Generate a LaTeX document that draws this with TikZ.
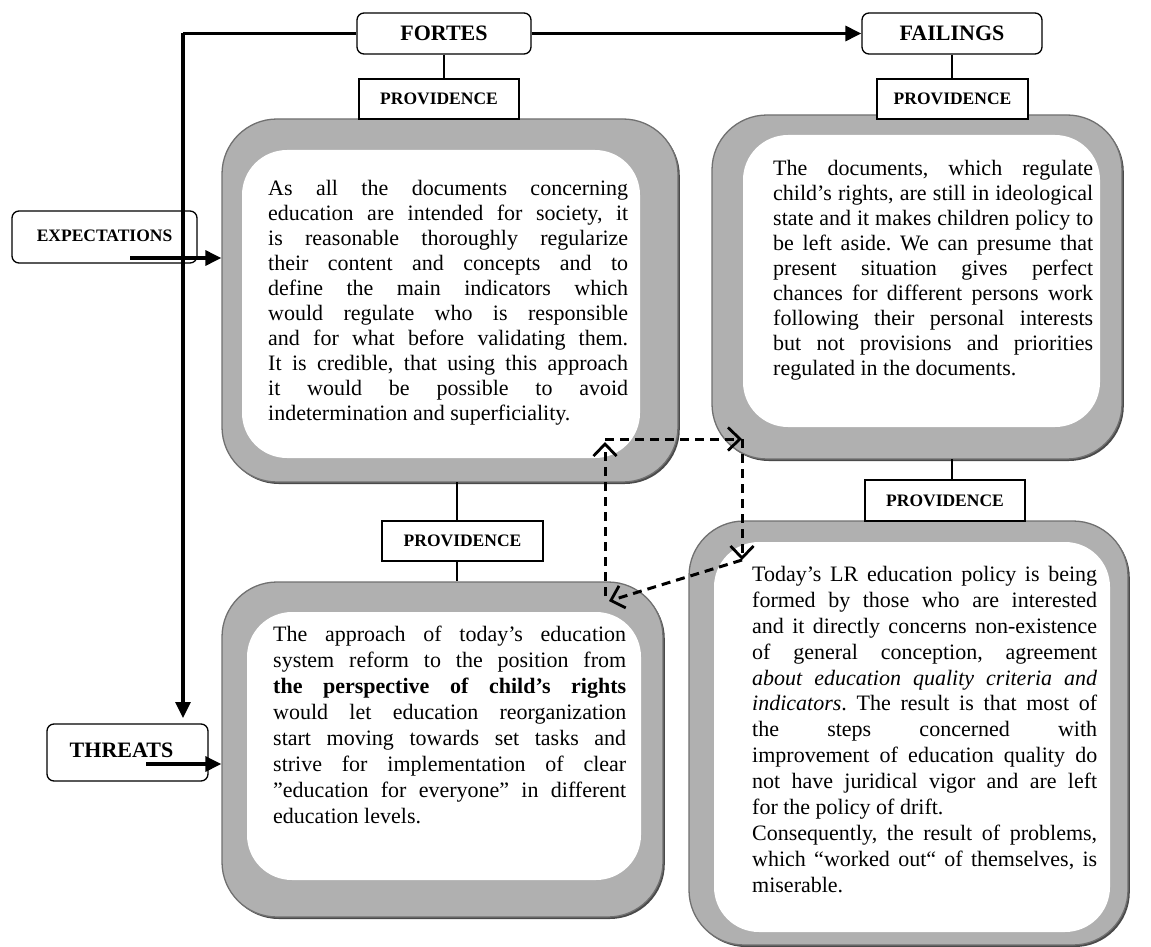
\documentclass[tikz,border=0pt]{standalone}
\usepackage{fontspec}
\setmainfont{Liberation Serif}
\usetikzlibrary{arrows.meta,shadows}
\definecolor{frgray}{HTML}{B0B0B0}
\definecolor{frline}{HTML}{707070}
\definecolor{frdark}{HTML}{4A4A4A}
\frenchspacing
\tikzset{
  frameout/.style={rectangle, rounded corners=55pt, fill=frgray, draw=frline, line width=1.3pt, inner sep=0pt,
    drop shadow={shadow xshift=1.8pt, shadow yshift=-2pt, fill=frdark, opacity=1}},
  framein/.style={rectangle, rounded corners=45pt, fill=white, inner sep=0pt},
  lbl/.style={rectangle, rounded corners=7pt, draw, line width=1.3pt, fill=white, inner sep=0pt,
    font=\bfseries\fontsize{22}{24}\selectfont},
  smlbl/.style={lbl, font=\bfseries\fontsize{17.5}{20}\selectfont},
  prov/.style={rectangle, draw, line width=1.3pt, fill=white, inner sep=0pt,
    font=\bfseries\fontsize{17.5}{20}\selectfont},
  body/.style={inner sep=0pt, anchor=north west},
  thin/.style={line width=1.3pt},
  solidarrow/.style={line width=3.2pt, -{Triangle[length=16pt,width=15pt]}},
  solidline/.style={line width=3.2pt},
  dasharrow/.style={line width=3pt, dash pattern=on 9pt off 6pt, -{Straight Barb[length=12pt,width=23pt,line width=2.8pt]}}
}
\newcommand{\bodyfont}[1]{\fontsize{22}{#1}\selectfont}
\begin{document}
\begin{tikzpicture}[x=1pt,y=-1pt]
\useasboundingbox (0,0) rectangle (1151,947);
% frames
\node[frameout, minimum width=456pt, minimum height=363pt] (tlo) at (450,300.5) {};
\node[framein, minimum width=398pt, minimum height=308pt] (tli) at (441,304) {};
\node[frameout, minimum width=410pt, minimum height=344pt] (tro) at (917,287) {};
\node[framein, minimum width=357pt, minimum height=292pt] (tri) at (921.5,281) {};
\node[frameout, minimum width=441pt, minimum height=335pt] (blo) at (442.5,749.5) {};
\node[framein, minimum width=394pt, minimum height=268pt] (bli) at (444,746) {};
\node[frameout, minimum width=439pt, minimum height=424pt] (bro) at (908.5,733) {};
\node[framein, minimum width=396pt, minimum height=390pt] (bri) at (912,737) {};

% body texts
\node[body] (tltext) at (268,180) {\parbox[t]{360pt}{\bodyfont{25}%
As all the documents concerning\linebreak
education are intended for society, it\linebreak
is reasonable thoroughly regularize\linebreak
their content and concepts and to\linebreak
define the main indicators which\linebreak
would regulate who is responsible\linebreak
and for what before validating them.\linebreak
It is credible, that using this approach\linebreak
it would be possible to avoid\linebreak
indetermination and superficiality.}};

\node[body] (trtext) at (773,160) {\parbox[t]{320pt}{\bodyfont{25}%
The documents, which regulate\linebreak
child’s rights, are still in ideological\linebreak
state and it makes children policy to\linebreak
be left aside. We can presume that\linebreak
present situation gives perfect\linebreak
chances for different persons work\linebreak
following their personal interests\linebreak
but not provisions and priorities\linebreak
regulated in the documents.}};

\node[body] (bltext) at (273,626) {\parbox[t]{353pt}{\bodyfont{26}%
The approach of today’s education\linebreak
system reform to the position from\linebreak
\textbf{the perspective of child’s rights}\linebreak
would let education reorganization\linebreak
start moving towards set tasks and\linebreak
strive for implementation of clear\linebreak
”education for everyone” in different\linebreak
education levels.}};

\node[body] (brtext) at (752,566) {\parbox[t]{345pt}{\bodyfont{25.9}%
Today’s LR education policy is being\linebreak
formed by those who are interested\linebreak
and it directly concerns non-existence\linebreak
of general conception, agreement\linebreak
\textit{about education quality criteria and}\linebreak
\textit{indicators}. The result is that most of\linebreak
the steps concerned with\linebreak
improvement of education quality do\linebreak
not have juridical vigor and are left\linebreak
for the policy of drift.\\
Consequently, the result of problems,\linebreak
which “worked out“ of themselves, is\linebreak
miserable.}};

% label boxes
\node[lbl, minimum width=174pt, minimum height=41pt] (fortes) at (444,33.5) {FORTES};
\node[lbl, minimum width=180pt, minimum height=41pt] (failings) at (952,33.5) {FAILINGS};
\node[smlbl, minimum width=185pt, minimum height=52pt] (expect) at (104.5,237) {\raisebox{3pt}{EXPECTATIONS}};
\node[lbl, minimum width=161pt, minimum height=57pt] (threats) at (127.5,752.5) {\raisebox{4pt}{THREATS}\hspace*{12pt}};

\node[prov, minimum width=160pt, minimum height=40pt] (prov1) at (439,99) {PROVIDENCE};
\node[prov, minimum width=151pt, minimum height=40pt] (prov2) at (952.5,99) {PROVIDENCE};
\node[prov, minimum width=161pt, minimum height=40pt] (prov3) at (462.5,541) {PROVIDENCE};
\node[prov, minimum width=160pt, minimum height=41pt] (prov4) at (945,500.5) {PROVIDENCE};

% thin connectors
\draw[thin] (fortes.south) -- (fortes.south |- prov1.north);
\draw[thin] (failings.south) -- (failings.south |- prov2.north);
\draw[thin] (457,482) coordinate (c3a) -- (c3a |- prov3.north);
\draw[thin] (prov3.south -| c3a) -- (c3a |- blo.north);
\draw[thin] (952,459) coordinate (c4a) -- (c4a |- prov4.north);

% solid arrows
\coordinate (corner) at (183,33.5);
\coordinate (thrin) at (183,718);
\draw[solidline] (fortes.west) -- (corner);
\draw[solidarrow] (corner) -- (thrin);
\draw[solidarrow] (fortes.east) -- (failings.west);
\coordinate (expstart) at (130,258);
\draw[solidarrow] (expstart) -- (expstart -| tlo.west);
\coordinate (thrstart) at (146,764);
\draw[solidarrow] (thrstart) -- (thrstart -| blo.west);

% dashed arrows
\coordinate (d1) at (605,596);
\coordinate (d2) at (605,439);
\coordinate (d3) at (742,439);
\coordinate (d4) at (742,560);
\coordinate (d5) at (609,601);
\draw[dasharrow] (d1) -- ([yshift=-3pt]d2);
\draw[dasharrow] (d2) -- (d3);
\draw[dasharrow] (d3) -- (d4);
\draw[dasharrow] (d4) -- (d5);
\end{tikzpicture}
\end{document}
